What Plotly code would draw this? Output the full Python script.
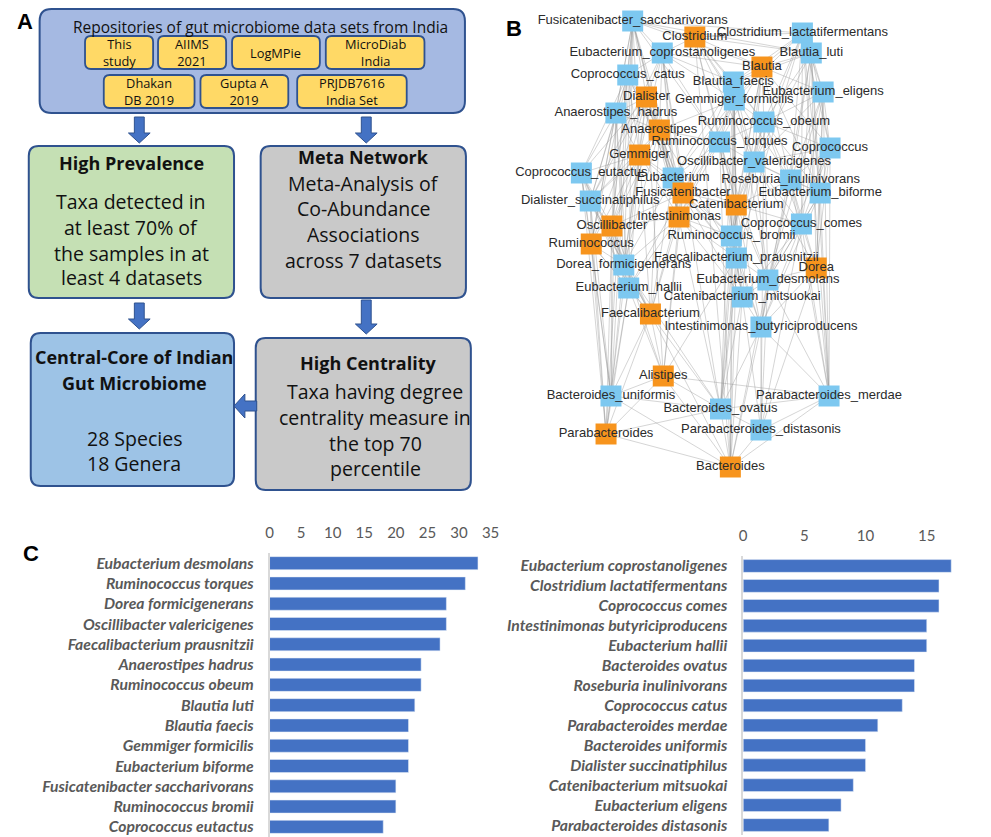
import plotly.graph_objects as go

# page body adds an 8px margin; the figure is sized to fill the rest of the window
OFF = 8
W, H = 991 - OFF, 837 - OFF

# ---------------- Panel C data ----------------
left_taxa = ["Eubacterium desmolans", "Ruminococcus torques", "Dorea formicigenerans",
             "Oscillibacter valericigenes", "Faecalibacterium prausnitzii", "Anaerostipes hadrus",
             "Ruminococcus obeum", "Blautia luti", "Blautia faecis", "Gemmiger formicilis",
             "Eubacterium biforme", "Fusicatenibacter saccharivorans", "Ruminococcus bromii",
             "Coprococcus eutactus"]
left_values = [33, 31, 28, 28, 27, 24, 24, 23, 22, 22, 22, 20, 20, 18]

right_taxa = ["Eubacterium coprostanoligenes", "Clostridium lactatifermentans", "Coprococcus comes",
              "Intestinimonas butyriciproducens", "Eubacterium hallii", "Bacteroides ovatus",
              "Roseburia inulinivorans", "Coprococcus catus", "Parabacteroides merdae",
              "Bacteroides uniformis", "Dialister succinatiphilus", "Catenibacterium mitsuokai",
              "Eubacterium eligens", "Parabacteroides distasonis"]
right_values = [17, 16, 16, 15, 15, 14, 14, 13, 11, 10, 10, 9, 8, 7]

# ---------------- Panel B data (network) ----------------
node_names = ["Fusicatenibacter_saccharivorans", "Clostridium", "Clostridium_lactatifermentans",
              "Eubacterium_coprostanoligenes", "Blautia_luti", "Blautia", "Coprococcus_catus",
              "Blautia_faecis", "Eubacterium_eligens", "Dialister", "Gemmiger_formicilis",
              "Anaerostipes_hadrus", "Ruminococcus_obeum", "Anaerostipes", "Ruminococcus_torques",
              "Coprococcus", "Gemmiger", "Oscillibacter_valericigenes", "Coprococcus_eutactus",
              "Eubacterium", "Roseburia_inulinivorans", "Fusicatenibacter", "Eubacterium_biforme",
              "Dialister_succinatiphilus", "Catenibacterium", "Intestinimonas", "Coprococcus_comes",
              "Oscillibacter", "Ruminococcus_bromii", "Ruminococcus", "Faecalibacterium_prausnitzii",
              "Dorea", "Dorea_formicigenerans", "Eubacterium_desmolans", "Eubacterium_hallii",
              "Catenibacterium_mitsuokai", "Faecalibacterium", "Intestinimonas_butyriciproducens",
              "Alistipes", "Bacteroides_uniformis", "Parabacteroides_merdae", "Bacteroides_ovatus",
              "Parabacteroides_distasonis", "Parabacteroides", "Bacteroides"]
node_x = [637, 700, 809, 667, 818, 768, 632, 739, 830, 651, 740, 620, 770, 664, 725, 837, 644,
          760, 585, 678, 797, 688, 827, 594, 742, 684, 808, 616, 737, 595, 742, 823, 628, 774,
          633, 748, 655, 767, 668, 615, 836, 726, 767, 610, 736]
node_y = [21, 37, 33, 53, 53, 67, 75, 82, 92, 97, 100, 113, 122, 130, 142, 148, 155, 162, 173,
          178, 180, 193, 193, 201, 205, 217, 224, 226, 236, 244, 258, 268, 265, 280, 288, 297,
          314, 327, 376, 396, 396, 409, 430, 434, 467]
node_kind = ["s", "g", "s", "s", "s", "g", "s", "s", "s", "g", "s", "s", "s", "g", "s", "s", "g",
             "s", "s", "s", "s", "g", "s", "s", "g", "g", "s", "g", "s", "g", "s", "g", "s", "s",
             "s", "s", "g", "s", "g", "s", "s", "s", "s", "g", "g"]
adjacency = {
    0: [1, 3, 5, 6, 9, 11, 13, 14, 16, 19, 21, 25, 27, 29, 32, 34, 39, 2, 4],
    1: [2, 3, 4, 5, 7, 10, 12, 14, 17, 20, 24, 44],
    2: [4, 5, 7, 8, 10, 12, 15, 17, 20, 22, 26, 40, 30],
    3: [5, 6, 7, 9, 10, 13, 14, 16, 19, 21, 23, 25, 41],
    4: [5, 7, 8, 12, 15, 17, 20, 22, 26, 31, 40, 37],
    5: [7, 8, 10, 12, 14, 15, 17, 20, 22, 24, 28, 41],
    6: [9, 11, 13, 16, 18, 19, 21, 23, 27, 29, 43],
    7: [10, 12, 14, 17, 19, 21, 24, 28, 30, 33, 41],
    8: [12, 15, 17, 20, 22, 26, 31, 40, 33],
    9: [11, 13, 16, 18, 19, 21, 23, 25, 27, 29, 32, 38],
    10: [12, 13, 14, 17, 19, 21, 24, 25, 28, 30, 44],
    11: [13, 16, 18, 23, 27, 29, 32, 34, 39],
    12: [14, 15, 17, 20, 22, 24, 26, 28, 33, 42],
    13: [14, 16, 19, 21, 23, 25, 27, 30, 32, 36, 41],
    14: [17, 19, 21, 24, 25, 28, 30, 33, 35, 44],
    15: [17, 20, 22, 26, 31, 33, 40],
    16: [18, 19, 21, 23, 25, 27, 29, 32, 34, 36, 43],
    17: [20, 22, 24, 26, 28, 30, 31, 33, 35],
    18: [23, 27, 29, 32, 34, 36, 39, 43],
    19: [21, 24, 25, 28, 30, 32, 35, 36],
    20: [22, 24, 26, 31, 33, 37, 40],
    21: [24, 25, 27, 28, 30, 34, 36, 38],
    22: [26, 31, 33, 37, 40],
    23: [27, 29, 32, 34, 36, 39, 43],
    24: [26, 28, 30, 33, 35, 37, 41],
    25: [27, 28, 30, 32, 34, 35, 36, 38],
    26: [31, 33, 35, 37, 40, 42],
    27: [29, 32, 34, 36, 38, 39, 43],
    28: [30, 33, 35, 37, 41, 44],
    29: [32, 34, 36, 39, 43],
    30: [33, 35, 37, 38, 41, 44],
    31: [33, 37, 40, 42],
    32: [34, 36, 39, 41],
    33: [35, 37, 40, 42, 44],
    34: [36, 38, 39, 43],
    35: [37, 41, 42, 44],
    36: [38, 39, 41, 43, 44],
    37: [40, 41, 42, 44],
    38: [39, 40, 41, 43, 44],
    39: [41, 43, 44],
    40: [41, 42, 44],
    41: [42, 43, 44],
    42: [44],
    43: [44],
}

# ---------------- Panel A text ----------------
repo_title = "Repositories of gut microbiome data sets from India"
repo_sets = ["This<br>study", "AIIMS<br>2021", "LogMPie", "MicroDiab<br>India",
             "Dhakan<br>DB 2019", "Gupta A<br>2019", "PRJDB7616<br>India Set"]


def px_x(p):
    return (p - OFF) / W


def px_y(p):
    return 1 - (p - OFF) / H


fig = go.Figure()

# ---- Panel C bars ----
BAR = "#4472C4"
fig.add_trace(go.Bar(x=left_values, y=left_taxa, orientation="h", marker_color=BAR,
                     xaxis="x", yaxis="y", showlegend=False))
fig.add_trace(go.Bar(x=right_values, y=right_taxa, orientation="h", marker_color=BAR,
                     xaxis="x2", yaxis="y2", showlegend=False))

# ---- Panel B network ----
ex, ey = [], []
for a, nbrs in adjacency.items():
    for b in nbrs:
        ex += [node_x[a], node_x[b], None]
        ey += [node_y[a], node_y[b], None]
fig.add_trace(go.Scatter(x=ex, y=ey, mode="lines", xaxis="x3", yaxis="y3",
                         line=dict(color="rgba(150,150,150,0.5)", width=0.8),
                         hoverinfo="skip", showlegend=False))
node_colors = ["#7DC8F0" if k == "s" else "#F7941D" for k in node_kind]
fig.add_trace(go.Scatter(x=node_x, y=node_y, mode="markers", xaxis="x3", yaxis="y3",
                         marker=dict(symbol="square", size=21, color=node_colors,
                                     line=dict(width=0)),
                         showlegend=False))
fig.add_trace(go.Scatter(x=node_x, y=node_y, mode="text", text=node_names, xaxis="x3", yaxis="y3",
                         textposition="middle center",
                         textfont=dict(family="Liberation Sans, Arial", size=13, color="#2b2b2b"),
                         showlegend=False))

# ---- Panel A shapes ----
shapes = []
annotations = []
FONT_A = "Open Sans, Noto Sans, sans-serif"


def rrect(x0, y0, x1, y1, r, fill, line="#2F528F", lw=2):
    p = (f"M {x0+r},{y0} L {x1-r},{y0} Q {x1},{y0} {x1},{y0+r} L {x1},{y1-r} "
         f"Q {x1},{y1} {x1-r},{y1} L {x0+r},{y1} Q {x0},{y1} {x0},{y1-r} "
         f"L {x0},{y0+r} Q {x0},{y0} {x0+r},{y0} Z")
    shapes.append(dict(type="path", path=p, xref="x3", yref="y3", fillcolor=fill,
                       line=dict(color=line, width=lw), layer="below"))


def down_arrow(cx, y0, y1):
    s, h, hl = 5, 11, 10
    p = (f"M {cx-s},{y0} L {cx+s},{y0} L {cx+s},{y1-hl} L {cx+h},{y1-hl} L {cx},{y1} "
         f"L {cx-h},{y1-hl} L {cx-s},{y1-hl} Z")
    shapes.append(dict(type="path", path=p, xref="x3", yref="y3", fillcolor="#4472C4",
                       line=dict(color="#2F528F", width=1), layer="below"))


def left_arrow(x0, x1, cy):
    s, h, hl = 5, 12, 11
    p = (f"M {x0},{cy-s} L {x0},{cy+s} L {x1+hl},{cy+s} L {x1+hl},{cy+h} L {x1},{cy} "
         f"L {x1+hl},{cy-h} L {x1+hl},{cy-s} Z")
    shapes.append(dict(type="path", path=p, xref="x3", yref="y3", fillcolor="#4472C4",
                       line=dict(color="#2F528F", width=1), layer="below"))


def txt(x, y, t, size=18, bold=False, color="#111111", family=FONT_A):
    annotations.append(dict(x=x, y=y, xref="x3", yref="y3", text=t, showarrow=False,
                            xanchor="center", yanchor="middle",
                            font=dict(family=family, size=size, color=color,
                                      weight="bold" if bold else "normal")))


BODY = 19.5

rrect(36, 9, 467, 113, 12, "#A5B9E2")
txt(260, 27, repo_title, size=15.5)
yellow_boxes = [(82, 36, 151, 69), (156, 36, 225, 69), (231, 36, 320, 69), (326, 36, 426, 69),
                (101, 75, 193, 108), (199, 75, 288, 108), (297, 75, 408, 108)]
for (x0, y0, x1, y1), label in zip(yellow_boxes, repo_sets):
    rrect(x0, y0, x1, y1, 6, "#FFD966", lw=1.8)
    txt((x0 + x1) / 2, (y0 + y1) / 2, label, size=12.8)

down_arrow(137, 117, 143)
down_arrow(367, 117, 143)

rrect(25, 146, 233, 298, 10, "#C5E0B4")
txt(129, 163, "High Prevalence", size=18, bold=True)
for yy, line_t in zip([201, 227, 253, 277],
                      ["Taxa detected in", "at least 70% of", "the samples in at", "least 4 datasets"]):
    txt(129, yy, line_t, size=BODY)

rrect(260, 146, 468, 298, 10, "#C9C9C9")
txt(364, 157, "Meta Network", size=18, bold=True)
for yy, line_t in zip([183, 208, 234, 260],
                      ["Meta-Analysis of", "Co-Abundance", "Associations", "across 7 datasets"]):
    txt(364, yy, line_t, size=BODY)

down_arrow(137, 303, 329)
down_arrow(367, 300, 334)

rrect(27, 333, 233, 486, 10, "#9DC3E6")
txt(132, 357, "Central-Core of Indian", size=18, bold=True)
txt(132, 383, "Gut Microbiome", size=18, bold=True)
txt(132, 438, "28 Species", size=BODY)
txt(132, 463, "18 Genera", size=BODY)

rrect(255, 338, 473, 490, 10, "#C9C9C9")
txt(369, 363, "High Centrality", size=18, bold=True)
for yy, line_t in zip([391, 417, 443, 468],
                      ["Taxa having degree", "centrality measure in", "the top 70", "percentile"]):
    txt(376, yy, line_t, size=BODY)

left_arrow(256, 233, 406)

# panel letters
for x, y, t in [(21, 21, "A"), (517, 28, "B"), (27, 553, "C")]:
    annotations.append(dict(x=x, y=y, xref="x3", yref="y3", text=t, showarrow=False,
                            xanchor="center", yanchor="middle",
                            font=dict(family="Liberation Sans, Arial", size=22, color="#000",
                                      weight="bold")))

tickfont_c = dict(family="Lato, Open Sans, sans-serif", size=15.7, color="#595959",
                  weight="bold", style="italic")
xtickfont = dict(family="Lato, Open Sans, sans-serif", size=15, color="#595959")

fig.update_layout(
    width=W, height=H, margin=dict(l=0, r=0, t=0, b=0),
    paper_bgcolor="white", plot_bgcolor="rgba(0,0,0,0)",
    bargap=0.36, shapes=shapes, annotations=annotations,
    xaxis=dict(domain=[px_x(269), px_x(493)], range=[0, 35], side="top", dtick=5,
               showgrid=False, zeroline=False, showline=False, tickfont=xtickfont,
               ticks="outside", ticklen=8, tickcolor="rgba(0,0,0,0)", anchor="y"),
    yaxis=dict(domain=[0, px_y(553)], autorange="reversed", showgrid=False,
               showline=True, linecolor="#D9D9D9", linewidth=1.5, tickfont=tickfont_c,
               ticks="outside", ticklen=11, tickcolor="rgba(0,0,0,0)", anchor="x"),
    xaxis2=dict(domain=[px_x(749), 1], range=[0, (991 - 749) / 12.4], side="top", dtick=5,
                showgrid=False, zeroline=False, showline=False, tickfont=xtickfont,
                ticks="outside", ticklen=8, tickcolor="rgba(0,0,0,0)", anchor="y2"),
    yaxis2=dict(domain=[px_y(835), px_y(556)], autorange="reversed", showgrid=False,
                showline=True, linecolor="#D9D9D9", linewidth=1.5, tickfont=tickfont_c,
                ticks="outside", ticklen=11, tickcolor="rgba(0,0,0,0)", anchor="x2"),
    xaxis3=dict(domain=[0, 1], range=[OFF, 991], visible=False, anchor="y3", fixedrange=True),
    yaxis3=dict(domain=[0, 1], range=[837, OFF], visible=False, anchor="x3", fixedrange=True),
)

fig.write_html("out.html")
